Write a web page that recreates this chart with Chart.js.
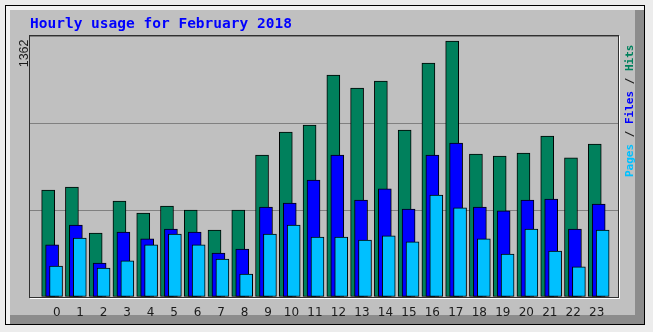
<!DOCTYPE html>
<html lang="en">
<head>
<meta charset="UTF-8">
<title>Hourly usage for February 2018</title>
<script src="https://cdn.jsdelivr.net/npm/chart.js@4.4.1/dist/chart.umd.min.js"></script>
<style>
  html, body { margin: 0; padding: 0; background: #ececec; }
  .wrap { position: relative; width: 653px; height: 332px; }
  .panel {
    position: absolute; left: 5px; top: 5px; width: 640px; height: 320px;
    box-sizing: border-box; border: 1px solid #000; background: #c0c0c0;
    box-shadow: inset 4px 4px 0 #f2f2f2, inset -9px -9px 0 #8c8c8c;
  }
  canvas { position: absolute; left: 0; top: 0; }
</style>
</head>
<body>
<div class="wrap">
  <div class="panel"></div>
  <canvas id="usage" width="653" height="332"></canvas>
</div>
<script>
  const hours = [0, 1, 2, 3, 4, 5, 6, 7, 8, 9, 10, 11, 12, 13, 14, 15, 16, 17, 18, 19, 20, 21, 22, 23];
  const hourLabels = hours.map(String);
  const hits  = [569, 585, 340, 511, 447, 484, 463, 356, 463, 755, 878, 915, 1181, 1112, 1149, 888, 1245, 1362, 761, 750, 766, 857, 740, 814];
  const files = [277, 383, 181, 346, 309, 362, 346, 234, 255, 479, 500, 622, 755, 516, 575, 468, 755, 819, 479, 458, 516, 521, 362, 495];
  const pages = [165, 314, 154, 192, 277, 335, 277, 202, 122, 335, 383, 319, 319, 303, 325, 293, 543, 474, 309, 229, 362, 245, 160, 356];
  const maxLabel = '1362';

  const hitColor = '#00805c';
  const fileColor = '#0000ff';
  const pageColor = '#00c0ff';

  // value axis runs a little past the largest hour so the top bar clears the frame
  const yTop = 1389;

  // the three bar series sit on their own hidden x scales, nudged sideways
  const span = [-0.93, 23.812];
  const nudge = 0.166;
  const shifted = d => ({ min: span[0] + d, max: span[1] + d });

  // sunken box around the plot
  const plotFrame = {
    id: 'plotFrame',
    afterDatasetsDraw(chart) {
      const { ctx, chartArea: a } = chart;
      ctx.save();
      ctx.lineWidth = 1;
      ctx.strokeStyle = '#ffffff';
      ctx.beginPath();
      ctx.moveTo(a.right + 1.5, a.top);
      ctx.lineTo(a.right + 1.5, a.bottom + 1.5);
      ctx.lineTo(a.left, a.bottom + 1.5);
      ctx.stroke();
      ctx.strokeStyle = '#303030';
      ctx.strokeRect(a.left - 0.5, a.top - 0.5, a.right - a.left + 1, a.bottom - a.top + 1);
      ctx.restore();
    }
  };

  // vertical "Pages / Files / Hits" key on the right
  const sideLegend = {
    id: 'sideLegend',
    afterDraw(chart) {
      const { ctx, chartArea: a } = chart;
      const parts = [['Pages', pageColor], [' / ', '#202020'], ['Files', fileColor], [' / ', '#202020'], ['Hits', hitColor]];
      ctx.save();
      ctx.font = 'bold 11px "DejaVu Sans Mono"';
      ctx.textBaseline = 'middle';
      ctx.translate(a.right + 12, 177);
      ctx.rotate(-Math.PI / 2);
      let x = 0;
      for (const [t, c] of parts) {
        ctx.fillStyle = c;
        ctx.fillText(t, x, 0);
        x += ctx.measureText(t).width;
      }
      ctx.restore();
    }
  };

  const barStyle = { borderColor: '#000', borderWidth: 1, borderSkipped: false, barThickness: 13, grouped: false };

  new Chart(document.getElementById('usage'), {
    type: 'bar',
    data: {
      datasets: [
        { label: 'Hits',  data: hours.map((h, i) => ({ x: h, y: hits[i] })),  backgroundColor: hitColor,  xAxisID: 'xh', order: 3, ...barStyle },
        { label: 'Files', data: hours.map((h, i) => ({ x: h, y: files[i] })), backgroundColor: fileColor, xAxisID: 'xf', order: 2, ...barStyle },
        { label: 'Pages', data: hours.map((h, i) => ({ x: h, y: pages[i] })), backgroundColor: pageColor, xAxisID: 'xp', order: 1, ...barStyle }
      ]
    },
    options: {
      responsive: false,
      animation: false,
      devicePixelRatio: 1,
      layout: { padding: { left: 10, top: 15.6, right: 35, bottom: 10 } },
      plugins: {
        legend: { display: false },
        tooltip: { enabled: false },
        title: {
          display: true,
          text: 'Hourly usage for February 2018',
          align: 'start',
          fullSize: false,
          color: '#0000ff',
          font: { family: 'DejaVu Sans Mono', size: 14.5, weight: 'bold' },
          padding: { top: 0, bottom: 3 }
        }
      },
      scales: {
        x: {
          type: 'linear', position: 'bottom', min: -1.137, max: 23.906, offset: false,
          afterBuildTicks: s => { s.ticks = hours.map(h => ({ value: h })); },
          afterFit: s => { s.height = 25; },
          grid: { display: false },
          border: { display: false },
          ticks: {
            autoSkip: false, maxRotation: 0, padding: 1, color: '#1a1a1a',
            font: { family: 'DejaVu Sans', size: 12 },
            callback: (v, i) => hourLabels[i]
          }
        },
        xh: { type: 'linear', display: false, offset: false, ...shifted(nudge) },
        xf: { type: 'linear', display: false, offset: false, ...shifted(0) },
        xp: { type: 'linear', display: false, offset: false, ...shifted(-nudge) },
        y: {
          type: 'linear', min: 0, max: yTop,
          afterBuildTicks: s => { s.ticks = [0, 1, 2, 3].map(k => ({ value: yTop * k / 3 })); },
          afterFit: s => { s.width = 20; },
          grid: { color: '#808080', drawTicks: false },
          border: { display: false },
          ticks: { display: false },
          title: {
            display: true, text: maxLabel + ' ', align: 'end', color: '#1a1a1a',
            font: { family: 'Liberation Sans', size: 12.5 },
            padding: { top: 7, bottom: 0 }
          }
        }
      }
    },
    plugins: [plotFrame, sideLegend]
  });
</script>
</body>
</html>
